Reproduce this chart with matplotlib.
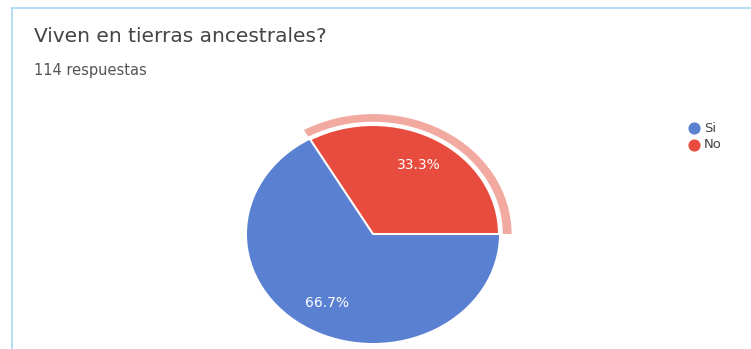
import matplotlib
matplotlib.use("Agg")
import matplotlib.pyplot as plt
from matplotlib.patches import Wedge
import numpy as np

title = "Viven en tierras ancestrales?"
subtitle = "114 respuestas"
labels = ["Si", "No"]
values = [66.7, 33.3]
colors = ["#5a80d2", "#e84c3e"]

W, H = 751, 349
fig = plt.figure(figsize=(W / 100, H / 100), dpi=100)
fig.patch.set_facecolor("white")

# background axes in pixel coords for frame + text
bg = fig.add_axes([0, 0, 1, 1])
bg.set_xlim(0, W)
bg.set_ylim(H, 0)
bg.axis("off")
bg.plot([12, W], [8, 8], color="#a9d8f2", lw=1.2)
bg.plot([12, 12], [8, H], color="#a9d8f2", lw=1.2)
bg.text(34, 36, title, fontsize=14.5, family="DejaVu Sans", color="#444444", va="center")
bg.text(34, 70, subtitle, fontsize=10.5, family="DejaVu Sans", color="#555555", va="center")

# legend
for i, (lab, c) in enumerate(zip(labels, colors)):
    y = 128 + i * 17
    bg.scatter([694], [y], s=60, color=c, zorder=3)
    bg.text(704, y, lab, fontsize=9.5, family="DejaVu Sans", color="#444444", va="center")

# pie axes: ellipse, horizontally stretched
cx, cy, rx, ry = 373, 234, 126, 109
pad = 1.2
ax = fig.add_axes([(cx - rx * pad) / W, 1 - (cy + ry * pad) / H,
                   2 * rx * pad / W, 2 * ry * pad / H])

# Google-style order: "No" slice from 0 to 120 deg, Si the rest
wedges, texts = ax.pie(values[::-1], colors=colors[::-1], startangle=0,
                       counterclock=True, radius=1,
                       wedgeprops=dict(edgecolor="white", linewidth=0))
wedges[0].set_edgecolor("white")
wedges[0].set_linewidth(1.5)
wedges[0].set_zorder(3)

# hover halo around the "No" slice
theta2 = 360 * values[1] / sum(values)
ax.add_patch(Wedge((0, 0), 1.10, 0, theta2, width=0.07,
                   facecolor="#f2aaa0", edgecolor="none", zorder=2))

ang = 0.0
for v in values[::-1]:
    mid = np.deg2rad(ang + 180 * v / sum(values))
    ax.text(0.73 * np.cos(mid), 0.73 * np.sin(mid), f"{v:.1f}%",
            ha="center", va="center", color="white", fontsize=10, family="DejaVu Sans")
    ang += 360 * v / sum(values)

ax.set_aspect("auto")
ax.set_xlim(-pad, pad)
ax.set_ylim(-pad, pad)
ax.axis("off")

fig.savefig("out.png", dpi=100)
